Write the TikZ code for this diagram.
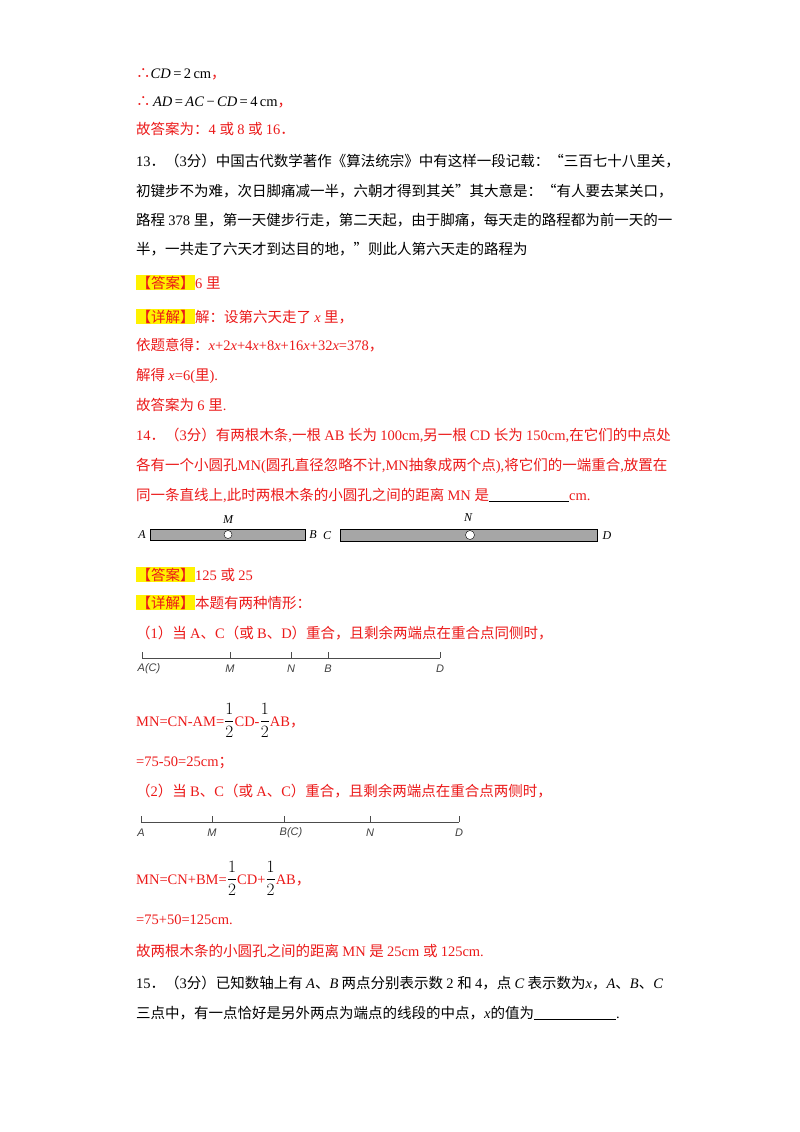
\documentclass[tikz,border=0pt]{standalone}
\usepackage{fontspec}
\setmainfont{Liberation Serif}
\font\cjkraw="Noto Sans CJK SC" at 14.5pt
\newfontfamily\fsans{Liberation Sans}
\newXeTeXintercharclass\cjkclass
\count255="4E00
\loop\XeTeXcharclass\count255=\cjkclass\advance\count255 by 1 \ifnum\count255<"A000 \repeat
\count255="3000
\loop\XeTeXcharclass\count255=\cjkclass\advance\count255 by 1 \ifnum\count255<"3040 \repeat
\count255="FF00
\loop\XeTeXcharclass\count255=\cjkclass\advance\count255 by 1 \ifnum\count255<"FF5F \repeat
\XeTeXcharclass`“=\cjkclass \XeTeXcharclass`”=\cjkclass
\XeTeXcharclass`、=\cjkclass \XeTeXcharclass`∴=\cjkclass
\XeTeXinterchartoks 0 \cjkclass = {\cjkraw}
\XeTeXinterchartoks 4095 \cjkclass = {\cjkraw}
\XeTeXinterchartoks \cjkclass 0 = {\selectfont}
\XeTeXinterchartoks 4095 0 = {\selectfont}
\XeTeXinterchartokenstate=1
\definecolor{rd}{RGB}{235,25,25}
\newcommand{\hl}[1]{{\setlength{\fboxsep}{0.5pt}\colorbox{yellow}{\color{rd}#1}}}
\newcommand{\half}{{\color{black}\fontsize{17}{17}\selectfont$\displaystyle\frac{1}{2}$}}
\newcommand{\tf}{{\color{rd}\cjkraw ∴}}
\begin{document}
\begin{tikzpicture}[x=1pt,y=-1pt,
  t/.style={anchor=base west,inner sep=0pt,font=\fontsize{14.5}{16}\selectfont},
  r/.style={t,text=rd},
  lb/.style={font=\fsans\itshape\fontsize{11}{12}\selectfont,text=black!75,inner sep=0pt},
  stl/.style={font=\itshape\fontsize{12}{12}\selectfont,inner sep=0pt},
  bar/.style={draw=black,line width=0.8pt,fill=black!35},
  ax/.style={draw=black!70,line width=0.8pt}]
\useasboundingbox (0,0) rectangle (800,1132);
\node[t] (l1) at (136,78) {\tf\textit{CD}\,=\,2\,cm\textcolor{rd}{，}};
\node[t] (l2) at (136,106) {\tf\,\textit{AD}\,=\,\textit{AC}\,−\,\textit{CD}\,=\,4\,cm\textcolor{rd}{，}};
\node[r] (l3) at (136,134) {故答案为：4 或 8 或 16．};
\node[t] (q1) at (136,166) {13．（3分）中国古代数学著作《算法统宗》中有这样一段记载：“三百七十八里关，};
\node[t] (q2) at (136,196) {初键步不为难，次日脚痛减一半，六朝才得到其关”其大意是：“有人要去某关口，};
\node[t] (q3) at (136,225) {路程 378 里，第一天健步行走，第二天起，由于脚痛，每天走的路程都为前一天的一};
\node[t] (q4) at (136,254) {半，一共走了六天才到达目的地，”则此人第六天走的路程为};
\node[r] (a1) at (136,288) {\hl{【答案】}6 里};
\node[r] (a2) at (136,322) {\hl{【详解】}解：设第六天走了 \textit{x} 里，};
\node[r] (a3) at (136,350) {依题意得：\textit{x}+2\textit{x}+4\textit{x}+8\textit{x}+16\textit{x}+32\textit{x}=378，};
\node[r] (a4) at (136,380) {解得 \textit{x}=6(里).};
\node[r] (a5) at (136,410) {故答案为 6 里.};
\node[r] (p1) at (136,440) {14．（3分）有两根木条,一根 AB 长为 100cm,另一根 CD 长为 150cm,在它们的中点处};
\node[r] (p2) at (136,470) {各有一个小圆孔MN(圆孔直径忽略不计,MN抽象成两个点),将它们的一端重合,放置在};
\node[r] (p3) at (136,500) {同一条直线上,此时两根木条的小圆孔之间的距离 MN 是\textcolor{black}{\underline{\hspace{80pt}}}cm.};
% sticks
\draw[bar] (150,529) rectangle (305,540);
\draw[bar] (340,529) rectangle (597,541);
\node[draw=black,fill=white,circle,minimum size=8pt,inner sep=0pt] (hM) at (228,534.5) {};
\node[draw=black,fill=white,circle,minimum size=9pt,inner sep=0pt] (hN) at (470,535) {};
\node[stl] (sM) at (228,520) {M};
\node[stl] (sN) at (468,518) {N};
\node[stl] (sA) at (142,535) {A};
\node[stl] (sB) at (313,535) {B};
\node[stl] (sC) at (327,536) {C};
\node[stl] (sD) at (607,536) {D};
\node[r] (b1) at (136,580) {\hl{【答案】}125 或 25};
\node[r] (b2) at (136,608) {\hl{【详解】}本题有两种情形：};
\node[r] (b3) at (136,638) {（1）当 A、C（或 B、D）重合，且剩余两端点在重合点同侧时，};
% figure 1
\coordinate (f1a) at (142,658); \coordinate (f1d) at (440,658);
\draw[ax] (f1a) -- (f1d);
\foreach \xx/\nm/\lbl/\sh in {142/a/A(C)/7,230/m/M/0,291/n/N/0,328/b/B/0,440/d/D/0}{
  \draw[ax] (\xx,652) -- (\xx,658);
  \node[lb] (f1\nm) at (\xx+\sh,669) {\lbl};}
\node[r] (c1) at (136,726) {MN=CN-AM=\half CD-\half AB，};
\node[r] (c2) at (136,766) {=75-50=25cm；};
\node[r] (c3) at (136,796) {（2）当 B、C（或 A、C）重合，且剩余两端点在重合点两侧时，};
% figure 2
\coordinate (f2a) at (141,822); \coordinate (f2d) at (459,822);
\draw[ax] (f2a) -- (f2d);
\foreach \xx/\nm/\lbl/\sh in {141/a/A/0,212/m/M/0,284/b/B(C)/7,370/n/N/0,459/d/D/0}{
  \draw[ax] (\xx,816) -- (\xx,822);
  \node[lb] (f2\nm) at (\xx+\sh,833) {\lbl};}
\node[r] (d1) at (136,884) {MN=CN+BM=\half CD+\half AB，};
\node[r] (d2) at (136,924) {=75+50=125cm.};
\node[r] (d3) at (136,956) {故两根木条的小圆孔之间的距离 MN 是 25cm 或 125cm.};
\node[t] (e1) at (136,988) {15．（3分）已知数轴上有 \textit{A}、\textit{B} 两点分别表示数 2 和 4，点 \textit{C} 表示数为\textit{x}，\textit{A}、\textit{B}、\textit{C}};
\node[t] (e2) at (136,1018) {三点中，有一点恰好是另外两点为端点的线段的中点，\textit{x}的值为\underline{\hspace{82pt}}.};
\end{tikzpicture}
\end{document}
